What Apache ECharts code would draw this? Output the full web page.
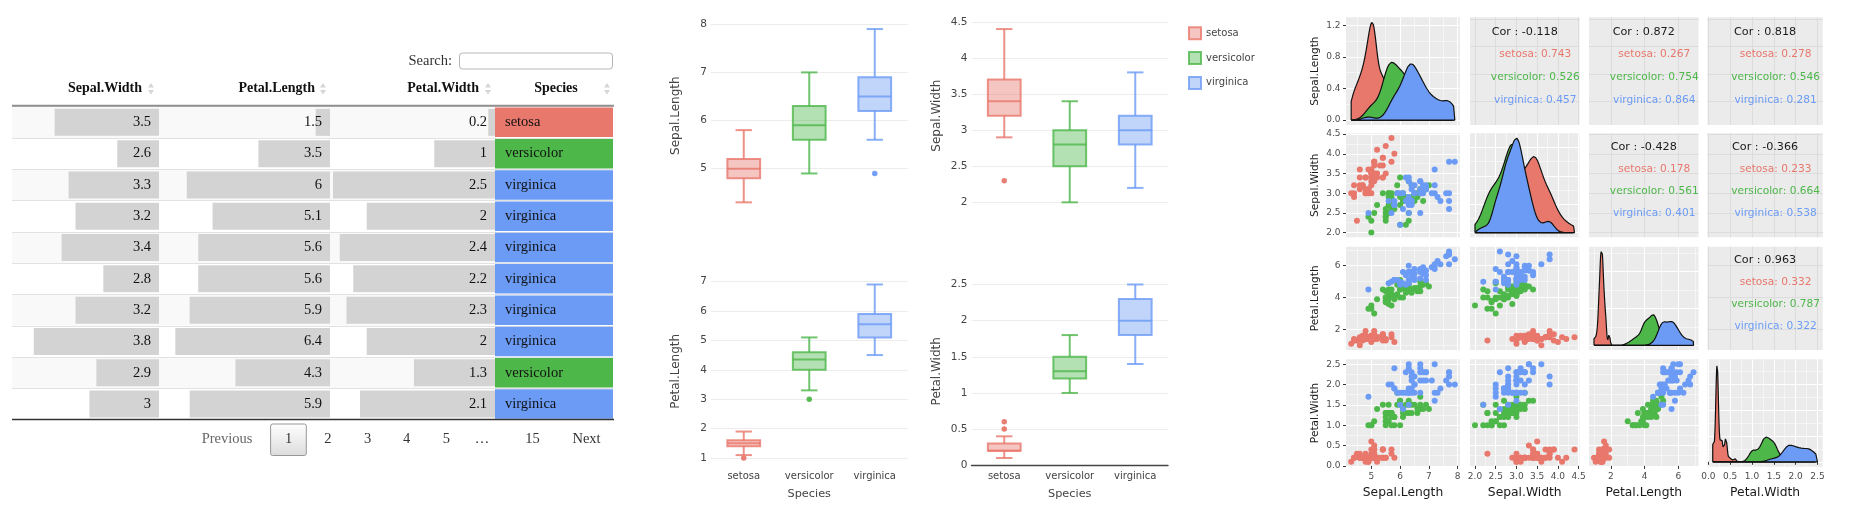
<!DOCTYPE html>
<html>
<head>
<meta charset="utf-8">
<script src="https://cdn.jsdelivr.net/npm/echarts@6.0.0/dist/echarts.min.js"></script>
<style>
html,body{margin:0;padding:0;background:#fff;overflow:hidden}
#chart{width:1850px;height:509px}
</style>
</head>
<body>
<div id="chart"></div>
<script>
// ================= DATA =================
const species = ['setosa', 'versicolor', 'virginica'];
const speciesColors = ['#E8776C', '#4DB74A', '#6B9BF5'];

// --- table (page 1 of 15) ---
const tableHeaders = ['Sepal.Width', 'Petal.Length', 'Petal.Width', 'Species'];
const tableSepalWidth = [3.5, 2.6, 3.3, 3.2, 3.4, 2.8, 3.2, 3.8, 2.9, 3];
const tablePetalLength = [1.5, 3.5, 6, 5.1, 5.6, 5.6, 5.9, 6.4, 4.3, 5.9];
const tablePetalWidth = [0.2, 1, 2.5, 2, 2.4, 2.2, 2.3, 2, 1.3, 2.1];
const tableSpecies = ['setosa', 'versicolor', 'virginica', 'virginica', 'virginica', 'virginica', 'virginica', 'virginica', 'versicolor', 'virginica'];
const pageLabels = ['Previous', '1', '2', '3', '4', '5', '…', '15', 'Next'];

// --- iris measurements by species ---
const slSetosa = [5.1,4.9,4.7,4.6,5.0,5.4,4.6,5.0,4.4,4.9,5.4,4.8,4.8,4.3,5.8,5.7,5.4,5.1,5.7,5.1,5.4,5.1,4.6,5.1,4.8,5.0,5.0,5.2,5.2,4.7,4.8,5.4,5.2,5.5,4.9,5.0,5.5,4.9,4.4,5.1,5.0,4.5,4.4,5.0,5.1,4.8,5.1,4.6,5.3,5.0];
const swSetosa = [3.5,3.0,3.2,3.1,3.6,3.9,3.4,3.4,2.9,3.1,3.7,3.4,3.0,3.0,4.0,4.4,3.9,3.5,3.8,3.8,3.4,3.7,3.6,3.3,3.4,3.0,3.4,3.5,3.4,3.2,3.1,3.4,4.1,4.2,3.1,3.2,3.5,3.6,3.0,3.4,3.5,2.3,3.2,3.5,3.8,3.0,3.8,3.2,3.7,3.3];
const plSetosa = [1.4,1.4,1.3,1.5,1.4,1.7,1.4,1.5,1.4,1.5,1.5,1.6,1.4,1.1,1.2,1.5,1.3,1.4,1.7,1.5,1.7,1.5,1.0,1.7,1.9,1.6,1.6,1.5,1.4,1.6,1.6,1.5,1.5,1.4,1.5,1.2,1.3,1.4,1.3,1.5,1.3,1.3,1.3,1.6,1.9,1.4,1.6,1.4,1.5,1.4];
const pwSetosa = [0.2,0.2,0.2,0.2,0.2,0.4,0.3,0.2,0.2,0.1,0.2,0.2,0.1,0.1,0.2,0.4,0.4,0.3,0.3,0.3,0.2,0.4,0.2,0.5,0.2,0.2,0.4,0.2,0.2,0.2,0.2,0.4,0.1,0.2,0.2,0.2,0.2,0.1,0.2,0.2,0.3,0.3,0.2,0.6,0.4,0.3,0.2,0.2,0.2,0.2];
const slVersicolor = [7.0,6.4,6.9,5.5,6.5,5.7,6.3,4.9,6.6,5.2,5.0,5.9,6.0,6.1,5.6,6.7,5.6,5.8,6.2,5.6,5.9,6.1,6.3,6.1,6.4,6.6,6.8,6.7,6.0,5.7,5.5,5.5,5.8,6.0,5.4,6.0,6.7,6.3,5.6,5.5,5.5,6.1,5.8,5.0,5.6,5.7,5.7,6.2,5.1,5.7];
const swVersicolor = [3.2,3.2,3.1,2.3,2.8,2.8,3.3,2.4,2.9,2.7,2.0,3.0,2.2,2.9,2.9,3.1,3.0,2.7,2.2,2.5,3.2,2.8,2.5,2.8,2.9,3.0,2.8,3.0,2.9,2.6,2.4,2.4,2.7,2.7,3.0,3.4,3.1,2.3,3.0,2.5,2.6,3.0,2.6,2.3,2.7,3.0,2.9,2.9,2.5,2.8];
const plVersicolor = [4.7,4.5,4.9,4.0,4.6,4.5,4.7,3.3,4.6,3.9,3.5,4.2,4.0,4.7,3.6,4.4,4.5,4.1,4.5,3.9,4.8,4.0,4.9,4.7,4.3,4.4,4.8,5.0,4.5,3.5,3.8,3.7,3.9,5.1,4.5,4.5,4.7,4.4,4.1,4.0,4.4,4.6,4.0,3.3,4.2,4.2,4.2,4.3,3.0,4.1];
const pwVersicolor = [1.4,1.5,1.5,1.3,1.5,1.3,1.6,1.0,1.3,1.4,1.0,1.5,1.0,1.4,1.3,1.4,1.5,1.0,1.5,1.1,1.8,1.3,1.5,1.2,1.3,1.4,1.4,1.7,1.5,1.0,1.1,1.0,1.2,1.6,1.5,1.6,1.5,1.3,1.3,1.3,1.2,1.4,1.2,1.0,1.3,1.2,1.3,1.3,1.1,1.3];
const slVirginica = [6.3,5.8,7.1,6.3,6.5,7.6,4.9,7.3,6.7,7.2,6.5,6.4,6.8,5.7,5.8,6.4,6.5,7.7,7.7,6.0,6.9,5.6,7.7,6.3,6.7,7.2,6.2,6.1,6.4,7.2,7.4,7.9,6.4,6.3,6.1,7.7,6.3,6.4,6.0,6.9,6.7,6.9,5.8,6.8,6.7,6.7,6.3,6.5,6.2,5.9];
const swVirginica = [3.3,2.7,3.0,2.9,3.0,3.0,2.5,2.9,2.5,3.6,3.2,2.7,3.0,2.5,2.8,3.2,3.0,3.8,2.6,2.2,3.2,2.8,2.8,2.7,3.3,3.2,2.8,3.0,2.8,3.0,2.8,3.8,2.8,2.8,2.6,3.0,3.4,3.1,3.0,3.1,3.1,3.1,2.7,3.2,3.3,3.0,2.5,3.0,3.4,3.0];
const plVirginica = [6.0,5.1,5.9,5.6,5.8,6.6,4.5,6.3,5.8,6.1,5.1,5.3,5.5,5.0,5.1,5.3,5.5,6.7,6.9,5.0,5.7,4.9,6.7,4.9,5.7,6.0,4.8,4.9,5.6,5.8,6.1,6.4,5.6,5.1,5.6,6.1,5.6,5.5,4.8,5.4,5.6,5.1,5.1,5.9,5.7,5.2,5.0,5.2,5.4,5.1];
const pwVirginica = [2.5,1.9,2.1,1.8,2.2,2.1,1.7,1.8,1.8,2.5,2.0,1.9,2.1,2.0,2.4,2.3,1.8,2.2,2.3,1.5,2.3,2.0,2.0,1.8,2.1,1.8,1.8,1.8,2.1,1.6,1.9,2.0,2.2,1.5,1.4,2.3,2.4,1.8,1.8,2.1,2.4,2.3,1.9,2.3,2.5,2.3,1.9,2.0,2.3,1.8];

// --- box plot statistics: [min, q1, median, q3, max] ---
const boxSepalLength = [[4.3, 4.8, 5.0, 5.2, 5.8], [4.9, 5.6, 5.9, 6.3, 7.0], [5.6, 6.2, 6.5, 6.9, 7.9]];
const boxSepalWidth  = [[2.9, 3.2, 3.4, 3.7, 4.4], [2.0, 2.5, 2.8, 3.0, 3.4], [2.2, 2.8, 3.0, 3.2, 3.8]];
const boxPetalLength = [[1.1, 1.4, 1.5, 1.6, 1.9], [3.3, 4.0, 4.35, 4.6, 5.1], [4.5, 5.1, 5.55, 5.9, 6.9]];
const boxPetalWidth  = [[0.1, 0.2, 0.2, 0.3, 0.4], [1.0, 1.2, 1.3, 1.5, 1.8], [1.4, 1.8, 2.0, 2.3, 2.5]];
const outSepalLength = [[], [], [4.9]];
const outSepalWidth  = [[2.3], [], []];
const outPetalLength = [[1.0], [3.0], []];
const outPetalWidth  = [[0.5, 0.6], [], []];
const boxTicksSL = [5, 6, 7, 8];
const boxTicksSW = [2, 2.5, 3, 3.5, 4, 4.5];
const boxTicksPL = [1, 2, 3, 4, 5, 6, 7];
const boxTicksPW = [0, 0.5, 1, 1.5, 2, 2.5];

// --- pairs plot ---
const pairTicksSL = [5, 6, 7, 8];            const pairMinorSL = [4.5, 5.5, 6.5, 7.5];
const pairTicksSW = [2, 2.5, 3, 3.5, 4, 4.5]; const pairMinorSW = [2.25, 2.75, 3.25, 3.75, 4.25];
const pairTicksPL = [2, 4, 6];               const pairMinorPL = [1, 3, 5, 7];
const pairTicksPW = [0, 0.5, 1, 1.5, 2, 2.5]; const pairMinorPW = [0.25, 0.75, 1.25, 1.75, 2.25];
const densityTicksSL = [0, 0.4, 0.8, 1.2];   const densityMinorSL = [0.2, 0.6, 1.0];
// correlation labels (upper panels, row-major order)
const corPanels = [[0, 1], [0, 2], [0, 3], [1, 2], [1, 3], [2, 3]];
const corOverall    = ['-0.118', '0.872', '0.818', '-0.428', '-0.366', '0.963'];
const corSetosa     = ['0.743', '0.267', '0.278', '0.178', '0.233', '0.332'];
const corVersicolor = ['0.526', '0.754', '0.546', '0.561', '0.664', '0.787'];
const corVirginica  = ['0.457', '0.864', '0.281', '0.401', '0.538', '0.322'];

// ================= HELPERS =================
const SANS = '"DejaVu Sans", Verdana, sans-serif';
const SERIF = '"Liberation Serif", "Times New Roman", serif';
function rgba(hex, a) { const n = parseInt(hex.slice(1), 16); return 'rgba(' + (n >> 16) + ',' + ((n >> 8) & 255) + ',' + (n & 255) + ',' + a + ')'; }
const grid = [], xAxis = [], yAxis = [], series = [], gfx = [];
function addGrid(g) { grid.push(Object.assign({ show: false, containLabel: false, outerBoundsMode: 'none' }, g)); return grid.length - 1; }
function addX(a) { xAxis.push(a); return xAxis.length - 1; }
function addY(a) { yAxis.push(a); return yAxis.length - 1; }
function txt(text, x, y, o) {
  o = o || {};
  gfx.push({ type: 'text', x: x, y: y, rotation: o.rot || 0, z: 100, silent: true,
    style: { text: text, x: 0, y: 0, fill: o.color || '#111', font: o.font, align: o.align || 'center', verticalAlign: o.va || 'middle' } });
}
const hidden = { show: false };

// ================= TABLE =================
const tblTop = 106.7, tblRowH = 31.3, tblH = tblRowH * tableSpecies.length;
const rowIds = tableSpecies.map(function (_, i) { return 'r' + (i + 1); });
const tableNumCols = [
  { vals: tableSepalWidth, pool: swSetosa.concat(swVersicolor, swVirginica), left: 12, right: 159, full: 167, hx: 142, icon: 151 },
  { vals: tablePetalLength, pool: plSetosa.concat(plVersicolor, plVirginica), left: 159, right: 330, full: 169, hx: 315, icon: 323 },
  { vals: tablePetalWidth, pool: pwSetosa.concat(pwVersicolor, pwVirginica), left: 330, right: 495, full: 162, hx: 479, icon: 488 }
];
function tableY(gi, withStripes) {
  return addY({ gridIndex: gi, type: 'category', data: rowIds, inverse: true,
    axisLine: hidden, axisTick: hidden, axisLabel: hidden,
    splitLine: { show: true, lineStyle: { color: '#e2e2e2', width: 1 } },
    splitArea: { show: withStripes, areaStyle: { color: ['#f9f9f9', '#ffffff'] } } });
}
tableNumCols.forEach(function (c, k) {
  const r1 = Math.min.apply(null, c.pool), r2 = Math.max.apply(null, c.pool), r = r2 - r1;
  const w = c.right - c.left;
  const gi = addGrid({ left: c.left, top: tblTop, width: w, height: tblH });
  const xi = addX({ gridIndex: gi, type: 'value', min: r - r * w / c.full, max: r, show: false });
  const yi = tableY(gi, true);
  series.push({ type: 'bar', xAxisIndex: xi, yAxisIndex: yi, stack: 'col' + k, silent: true, barWidth: 27,
    itemStyle: { color: 'rgba(0,0,0,0)' }, data: c.vals.map(function (v) { return r2 - v; }) });
  series.push({ type: 'bar', xAxisIndex: xi, yAxisIndex: yi, stack: 'col' + k, silent: true, barWidth: 27,
    itemStyle: { color: '#d3d3d3' }, data: c.vals.map(function (v) { return v - r1; }),
    label: { show: true, position: 'insideRight', distance: 8, color: '#111', fontFamily: SERIF, fontSize: 14.5,
      formatter: function (p) { return String(c.vals[p.dataIndex]); } } });
  txt(tableHeaders[k], c.hx, 88.3, { align: 'right', font: 'bold 14px ' + SERIF });
});
(function () {
  const gi = addGrid({ left: 495, top: tblTop, width: 118, height: tblH });
  const xi = addX({ gridIndex: gi, type: 'value', min: 0, max: 1, show: false });
  const yi = tableY(gi, false);
  series.push({ type: 'bar', xAxisIndex: xi, yAxisIndex: yi, silent: true, barWidth: 29.5,
    data: tableSpecies.map(function (s) { return { value: 1, itemStyle: { color: speciesColors[species.indexOf(s)] } }; }),
    label: { show: true, position: 'insideLeft', distance: 10, color: '#111', fontFamily: SERIF, fontSize: 14.5,
      formatter: function (p) { return tableSpecies[p.dataIndex]; } } });
  txt(tableHeaders[3], 556, 88.3, { font: 'bold 14px ' + SERIF });
})();
[151, 323, 488, 607].forEach(function (cx) {
  gfx.push({ type: 'polygon', z: 100, silent: true, shape: { points: [[cx - 3, 87.5], [cx + 3, 87.5], [cx, 83]] }, style: { fill: '#d6d6d6' } });
  gfx.push({ type: 'polygon', z: 100, silent: true, shape: { points: [[cx - 3, 90], [cx + 3, 90], [cx, 94.5]] }, style: { fill: '#d6d6d6' } });
});
gfx.push({ type: 'line', z: 100, silent: true, shape: { x1: 12, y1: 105.7, x2: 614, y2: 105.7 }, style: { stroke: '#8f8f8f', lineWidth: 2 } });
gfx.push({ type: 'line', z: 100, silent: true, shape: { x1: 12, y1: 419.5, x2: 614, y2: 419.5 }, style: { stroke: '#333', lineWidth: 1.3 } });
txt('Search:', 452, 60.7, { align: 'right', font: '14.5px ' + SERIF, color: '#333' });
gfx.push({ type: 'rect', z: 100, silent: true, shape: { x: 459.5, y: 53, width: 153, height: 16, r: 3 }, style: { fill: '#fff', stroke: '#b5b5b5', lineWidth: 1 } });
gfx.push({ type: 'rect', z: 99, silent: true, shape: { x: 270.6, y: 424, width: 35.7, height: 31.5, r: 2 },
  style: { stroke: '#979797', lineWidth: 1, fill: { type: 'linear', x: 0, y: 0, x2: 0, y2: 1, colorStops: [{ offset: 0, color: '#ffffff' }, { offset: 1, color: '#dcdcdc' }] } } });
const pageX = [227, 288.5, 327.8, 367.5, 406.7, 446.4, 482, 532.5, 586.5];
pageLabels.forEach(function (t, i) { txt(t, pageX[i], 439.5, { font: '14.5px ' + SERIF, color: i === 0 ? '#666' : '#333' }); });

// ================= BOX PLOTS =================
const boxPanels = [
  { stats: boxSepalLength, out: outSepalLength, name: 'Sepal.Length', lo: 4.12, hi: 8.08, ticks: boxTicksSL, left: 711, top: 20.4, h: 190.6, bottom: false },
  { stats: boxSepalWidth, out: outSepalWidth, name: 'Sepal.Width', lo: 1.88, hi: 4.52, ticks: boxTicksSW, left: 971.5, top: 20.4, h: 190.6, bottom: false },
  { stats: boxPetalLength, out: outPetalLength, name: 'Petal.Length', lo: 0.705, hi: 7.195, ticks: boxTicksPL, left: 711, top: 275.8, h: 190.9, bottom: true },
  { stats: boxPetalWidth, out: outPetalWidth, name: 'Petal.Width', lo: -0.02, hi: 2.62, ticks: boxTicksPW, left: 971.5, top: 275.8, h: 190.9, bottom: true, zero: true }
];
function boxRenderer(color) {
  return function (params, api) {
    const xv = api.value(0);
    const pMin = api.coord([xv, api.value(1)]);
    const cx = pMin[0], yMin = pMin[1];
    const yQ1 = api.coord([xv, api.value(2)])[1];
    const yMed = api.coord([xv, api.value(3)])[1];
    const yQ3 = api.coord([xv, api.value(4)])[1];
    const yMax = api.coord([xv, api.value(5)])[1];
    const band = api.size([1, 0])[0];
    const bw = band * 0.5, cw = bw * 0.5;
    const stroke = rgba(color, 0.8), fill = rgba(color, 0.42);
    const ls = { stroke: stroke, lineWidth: 2, fill: null };
    return { type: 'group', children: [
      { type: 'line', shape: { x1: cx, y1: yQ3, x2: cx, y2: yMax }, style: ls },
      { type: 'line', shape: { x1: cx, y1: yQ1, x2: cx, y2: yMin }, style: ls },
      { type: 'line', shape: { x1: cx - cw / 2, y1: yMax, x2: cx + cw / 2, y2: yMax }, style: ls },
      { type: 'line', shape: { x1: cx - cw / 2, y1: yMin, x2: cx + cw / 2, y2: yMin }, style: ls },
      { type: 'rect', shape: { x: cx - bw / 2, y: yQ3, width: bw, height: yQ1 - yQ3 }, style: { fill: fill, stroke: stroke, lineWidth: 2 } },
      { type: 'line', shape: { x1: cx - bw / 2, y1: yMed, x2: cx + bw / 2, y2: yMed }, style: ls }
    ] };
  };
}
boxPanels.forEach(function (p) {
  const gi = addGrid({ left: p.left, top: p.top, width: 196.5, height: p.h });
  const xi = addX({ gridIndex: gi, type: 'category', data: species,
    axisLine: { show: !!p.zero, onZero: true, lineStyle: { color: '#444', width: 1.3 } },
    axisTick: hidden,
    axisLabel: { show: p.bottom, color: '#444', fontSize: 10, fontFamily: SANS, margin: 5 },
    name: p.bottom ? 'Species' : '', nameLocation: 'middle', nameGap: 22, nameMoveOverlap: false,
    nameTextStyle: { color: '#444', fontSize: 11.3, fontFamily: SANS } });
  const yi = addY({ gridIndex: gi, type: 'value', min: p.lo, max: p.hi,
    axisLine: hidden, axisTick: { show: false, customValues: p.ticks },
    axisLabel: { customValues: p.ticks, color: '#444', fontSize: 10.5, fontFamily: SANS, margin: 4 },
    splitLine: { show: true, lineStyle: { color: '#ececec', width: 1 } },
    name: p.name, nameLocation: 'middle', nameGap: 29, nameMoveOverlap: false,
    nameTextStyle: { color: '#444', fontSize: 12, fontFamily: SANS } });
  species.forEach(function (s, k) {
    series.push({ type: 'custom', name: s, xAxisIndex: xi, yAxisIndex: yi, silent: true,
      renderItem: boxRenderer(speciesColors[k]), data: [[k].concat(p.stats[k])], z: 3 });
    if (p.out[k].length) {
      series.push({ type: 'scatter', name: s, xAxisIndex: xi, yAxisIndex: yi, silent: true, symbolSize: 5.5,
        itemStyle: { color: speciesColors[k], opacity: 0.95 }, data: p.out[k].map(function (v) { return [k, v]; }), z: 4 });
    }
  });
});

// ================= PAIRS PLOT =================
const pairVars = [
  { name: 'Sepal.Length', groups: [slSetosa, slVersicolor, slVirginica], ticks: pairTicksSL, minor: pairMinorSL, dec: 0 },
  { name: 'Sepal.Width', groups: [swSetosa, swVersicolor, swVirginica], ticks: pairTicksSW, minor: pairMinorSW, dec: 1 },
  { name: 'Petal.Length', groups: [plSetosa, plVersicolor, plVirginica], ticks: pairTicksPL, minor: pairMinorPL, dec: 0 },
  { name: 'Petal.Width', groups: [pwSetosa, pwVersicolor, pwVirginica], ticks: pairTicksPW, minor: pairMinorPW, dec: 1 }
];
pairVars.forEach(function (v) {
  const all = [].concat.apply([], v.groups);
  v.lo = Math.min.apply(null, all); v.hi = Math.max.apply(null, all);
  const sp = v.hi - v.lo; v.min = v.lo - 0.05 * sp; v.max = v.hi + 0.05 * sp;
});
const pairCols = [[1346, 1460], [1470, 1579.5], [1589, 1698.5], [1707.5, 1822.7]];
const pairRows = [[17.3, 125], [133.3, 237.3], [246.7, 350], [359.3, 466.7]];

function quantile7(s, p) { const h = (s.length - 1) * p, i = Math.floor(h); return s[i] + (h - i) * (s[Math.min(i + 1, s.length - 1)] - s[i]); }
function bwNrd0(x) {
  const n = x.length, m = x.reduce(function (a, b) { return a + b; }, 0) / n;
  const sd = Math.sqrt(x.reduce(function (a, b) { return a + (b - m) * (b - m); }, 0) / (n - 1));
  const s = x.slice().sort(function (a, b) { return a - b; });
  let lo = Math.min(sd, (quantile7(s, 0.75) - quantile7(s, 0.25)) / 1.34);
  if (!(lo > 0)) lo = sd || 1;
  return 0.9 * lo * Math.pow(n, -0.2);
}
function kde(x, from, to, n) {
  const bw = bwNrd0(x), c = 1 / (x.length * bw * Math.sqrt(2 * Math.PI)), out = [];
  for (let i = 0; i < n; i++) {
    const t = from + (to - from) * i / (n - 1); let s = 0;
    for (let j = 0; j < x.length; j++) { const z = (t - x[j]) / bw; s += Math.exp(-0.5 * z * z); }
    out.push([t, s * c]);
  }
  return out;
}
function niceTicks(M) {
  const steps = [0.1, 0.2, 0.25, 0.4, 0.5, 1, 2, 2.5, 5];
  let best = steps[0], bs = 1e9;
  steps.forEach(function (s) { const n = Math.floor(M / s + 1e-9) + 1; const sc = Math.abs(n - 4); if (sc < bs) { bs = sc; best = s; } });
  const t = [], m = [];
  for (let v = 0; v <= M * 1.05 + 1e-9; v += best) t.push(+v.toFixed(6));
  for (let v = best / 2; v <= M * 1.05; v += best) m.push(+v.toFixed(6));
  return { ticks: t, minor: m };
}

function valueAxis(gi, lo, hi, ticks, o) {
  return {
    gridIndex: gi, type: 'value', min: lo, max: hi, position: o.pos,
    axisLine: hidden,
    axisTick: { show: !!o.labels, customValues: ticks, length: 3, lineStyle: { color: '#333', width: 1 } },
    axisLabel: { show: !!o.labels, customValues: ticks, color: '#4d4d4d', fontSize: 9, fontFamily: SANS, margin: 5.5,
      formatter: function (v) { return (+v).toFixed(o.dec || 0); } },
    splitLine: { show: true, lineStyle: { color: o.lineColor, width: o.lineWidth || 1 } }
  };
}

for (let i = 0; i < 4; i++) {
  for (let j = 0; j < 4; j++) {
    const vx = pairVars[j], vy = pairVars[i];
    const L = pairCols[j][0], R = pairCols[j][1], T = pairRows[i][0], B = pairRows[i][1];
    const gi = addGrid({ left: L, top: T, width: R - L, height: B - T, show: true, backgroundColor: '#EBEBEB', borderWidth: 0, borderColor: 'rgba(0,0,0,0)' });
    const upper = j > i, diag = i === j;
    const majorColor = upper ? '#dcdcdc' : '#ffffff';
    const xi = addX(valueAxis(gi, vx.min, vx.max, vx.ticks, { pos: 'bottom', labels: i === 3, dec: vx.dec, lineColor: majorColor, lineWidth: 1 }));
    if (!upper) addX(valueAxis(gi, vx.min, vx.max, vx.minor, { pos: 'top', labels: false, lineColor: '#ffffff', lineWidth: 0.5 }));
    if (diag) {
      const curves = vx.groups.map(function (g) { return kde(g, vx.lo, vx.hi, 512); });
      let M = 0; curves.forEach(function (c) { c.forEach(function (p) { if (p[1] > M) M = p[1]; }); });
      const nt = i === 0 ? { ticks: densityTicksSL, minor: densityMinorSL } : niceTicks(M);
      const yi = addY(valueAxis(gi, -0.05 * M, 1.05 * M, nt.ticks, { pos: 'left', labels: j === 0, dec: 1, lineColor: '#ffffff', lineWidth: 1 }));
      addY(valueAxis(gi, -0.05 * M, 1.05 * M, nt.minor, { pos: 'right', labels: false, lineColor: '#ffffff', lineWidth: 0.5 }));
      curves.forEach(function (c, k) {
        const poly = [[vx.lo, 0]].concat(c, [[vx.hi, 0], [vx.lo, 0]]);
        series.push({ type: 'line', xAxisIndex: xi, yAxisIndex: yi, data: poly, symbol: 'none', silent: true, smooth: false,
          lineStyle: { color: '#111', width: 1.2 }, areaStyle: { color: speciesColors[k], opacity: 1 }, z: 3 + k });
      });
    } else {
      const yi = addY(valueAxis(gi, vy.min, vy.max, vy.ticks, { pos: 'left', labels: j === 0, dec: vy.dec, lineColor: majorColor, lineWidth: 1 }));
      if (!upper) {
        addY(valueAxis(gi, vy.min, vy.max, vy.minor, { pos: 'right', labels: false, lineColor: '#ffffff', lineWidth: 0.5 }));
        species.forEach(function (s, k) {
          const gx = vx.groups[k], gy = vy.groups[k];
          series.push({ type: 'scatter', xAxisIndex: xi, yAxisIndex: yi, symbolSize: 6, silent: true,
            itemStyle: { color: speciesColors[k], opacity: 1 }, data: gx.map(function (v, n) { return [v, gy[n]]; }), z: 3 });
        });
      }
    }
  }
}
// correlation text in upper panels
const corFrac = [0.134, 0.345, 0.557, 0.766];
corPanels.forEach(function (rc, n) {
  const L = pairCols[rc[1]][0], R = pairCols[rc[1]][1], T = pairRows[rc[0]][0], B = pairRows[rc[0]][1];
  const cx = (L + R) / 2, H = B - T;
  txt('Cor : ' + corOverall[n], cx, T + H * corFrac[0], { font: '11.2px ' + SANS, color: '#1a1a1a' });
  txt('setosa: ' + corSetosa[n], cx + 10.5, T + H * corFrac[1], { font: '10.6px ' + SANS, color: speciesColors[0] });
  txt('versicolor: ' + corVersicolor[n], cx + 10.5, T + H * corFrac[2], { font: '10.6px ' + SANS, color: speciesColors[1] });
  txt('virginica: ' + corVirginica[n], cx + 10.5, T + H * corFrac[3], { font: '10.6px ' + SANS, color: speciesColors[2] });
});
// strip titles
pairVars.forEach(function (v, k) {
  txt(v.name, (pairCols[k][0] + pairCols[k][1]) / 2, 493, { font: '12.3px ' + SANS, color: '#1a1a1a' });
  txt(v.name, 1315, (pairRows[k][0] + pairRows[k][1]) / 2, { font: '10.6px ' + SANS, color: '#1a1a1a', rot: Math.PI / 2 });
});

// ================= CHART =================
const chart = echarts.init(document.getElementById('chart'), null, { renderer: 'canvas', width: 1850, height: 509 });
chart.setOption({
  animation: false,
  backgroundColor: '#ffffff',
  textStyle: { fontFamily: SANS },
  legend: {
    orient: 'vertical', left: 1183, top: 21.3, padding: 5, itemWidth: 12, itemHeight: 12, itemGap: 10.8, icon: 'rect',
    selectedMode: false, textStyle: { color: '#444', fontSize: 10, fontFamily: SANS },
    data: species.map(function (s, k) { return { name: s, itemStyle: { color: rgba(speciesColors[k], 0.42), borderColor: rgba(speciesColors[k], 0.8), borderWidth: 2 } }; })
  },
  grid: grid, xAxis: xAxis, yAxis: yAxis, series: series,
  graphic: { elements: gfx }
});
</script>
</body>
</html>
